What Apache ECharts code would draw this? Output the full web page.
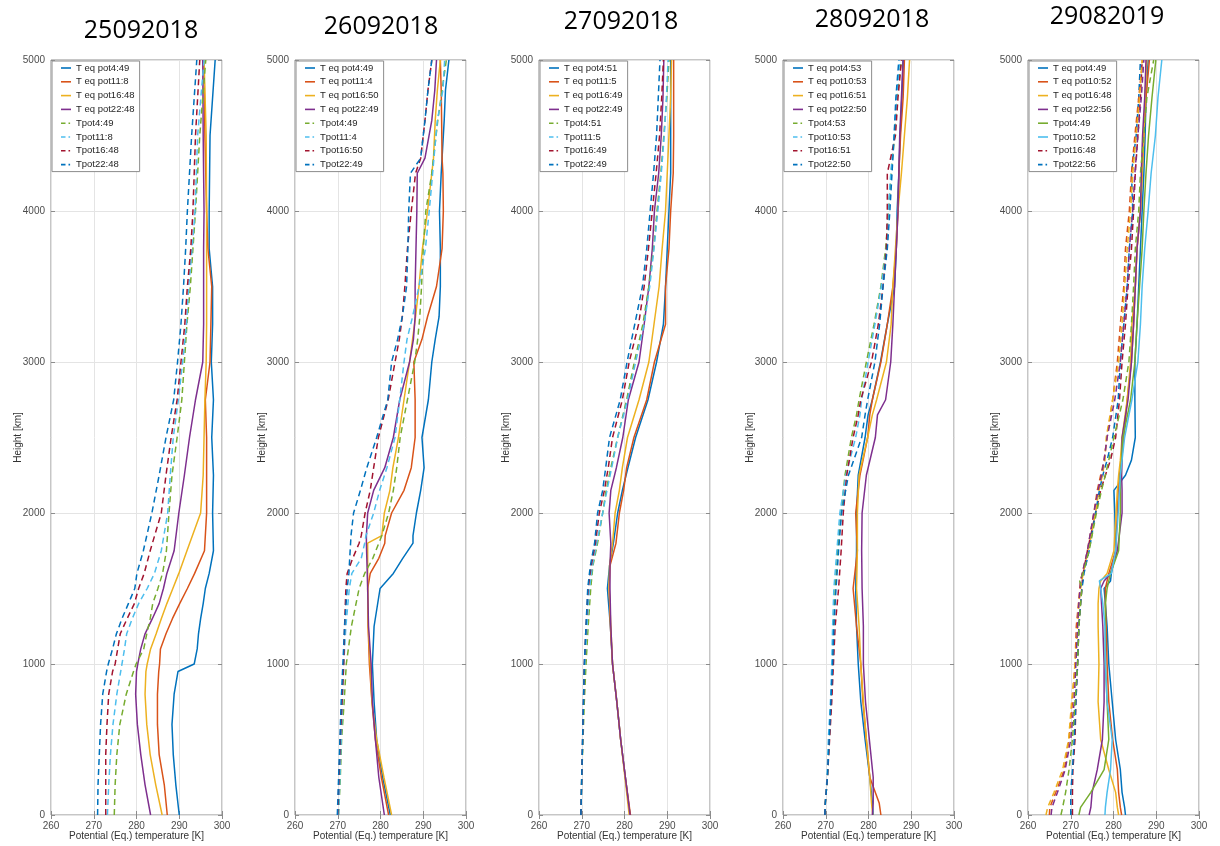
<!DOCTYPE html>
<html>
<head>
<meta charset="utf-8">
<script src="https://cdn.jsdelivr.net/npm/echarts@6/dist/echarts.min.js"></script>
<style>
  html, body { margin: 0; padding: 0; background: #fff; }
  #chart { width: 1220px; height: 846px; }
</style>
</head>
<body>
<div id="chart"></div>
<script>
// ---------- Sounding profiles: potential (Tpot) and equivalent potential (T eq pot) temperature [K] vs height [m] ----------

// 25.09.2018
const h25 = [0, 200, 400, 600, 800, 950, 1000, 1100, 1200, 1300, 1400, 1500, 1600, 1750, 2000, 2250, 2500, 2750, 3000, 3250, 3500, 3750, 4000, 4500, 5000];
const eq25_0449 = [290, 289.2, 288.6, 288.3, 288.8, 289.7, 293.5, 294.2, 294.5, 295, 295.6, 296.1, 297, 298, 297.8, 298, 297.6, 298, 297.5, 297.8, 297.8, 297, 297, 297.2, 298.4];
const eq25_1108 = [287.2, 286.5, 285.3, 284.9, 284.9, 285.2, 285.4, 285.6, 286.9, 288.4, 290.1, 291.9, 293.6, 295.9, 296.4, 296.4, 296.4, 296.1, 297.2, 297.4, 297.6, 296.7, 296.4, 296, 295.8];
const eq25_1648 = [286, 284.5, 283.2, 282.4, 282, 282.2, 282.5, 283.3, 284.6, 285.8, 287.1, 288.5, 289.9, 291.8, 295, 295.6, 295.8, 296, 296.3, 296.4, 296.4, 296.4, 296.4, 296.3, 295.8];
const eq25_2248 = [283.3, 282, 281, 280.2, 279.8, 280, 280.3, 281, 282, 283.7, 285.3, 286.3, 287.1, 288.8, 289.9, 291.2, 292.4, 293.8, 295.5, 295.7, 295.7, 295.7, 295.8, 295.6, 295.5];
const pot25_0449 = [274.8, 275, 275.4, 276.1, 277.6, 279.3, 279.9, 281.7, 282.4, 283.2, 283.8, 285, 286.1, 287, 287.6, 288.3, 289.5, 290.6, 291.2, 291.8, 292.6, 293.2, 293.8, 294.8, 296.2];
const pot25_1108 = [273.2, 273.5, 273.9, 274.5, 275.4, 276.3, 276.6, 277.2, 277.7, 279, 280.5, 282.5, 284.2, 285.8, 287.3, 287.9, 288.6, 289.8, 290.8, 291.7, 292.2, 293, 293.7, 294.3, 295.8];
const pot25_1648 = [272.8, 272.8, 272.8, 273.1, 273.5, 274.4, 275, 275.6, 276.2, 277.8, 279.5, 280.5, 281.8, 283.2, 285.8, 286.9, 288.1, 289.5, 290.4, 291.3, 291.9, 292.7, 293.2, 293.8, 294.8];
const pot25_2248 = [270.9, 271, 271.3, 271.6, 272.1, 273, 273.4, 274.4, 275.3, 276.6, 278.1, 279.6, 280.1, 281.6, 283.6, 285.3, 286.9, 288.7, 289.6, 290.4, 291, 291.5, 291.9, 292.9, 294.1];
const names25 = ['T eq pot4:49', 'T eq pot11:8', 'T eq pot16:48', 'T eq pot22:48', 'Tpot4:49', 'Tpot11:8', 'Tpot16:48', 'Tpot22:48'];

// 26.09.2018
const h26 = [0, 250, 500, 750, 1000, 1250, 1500, 1600, 1700, 1800, 1850, 2000, 2150, 2300, 2500, 2750, 3000, 3150, 3300, 3500, 3750, 4000, 4250, 4350, 4600, 4800, 5000];
const eq26_0449 = [282.3, 280.5, 279.1, 278.5, 278.1, 278.5, 279.9, 283, 285.2, 287.6, 287.6, 288.4, 289.4, 290.2, 289.7, 291.2, 292, 292.8, 293.7, 294, 294, 293.8, 294.2, 294.4, 294.9, 295.2, 296];
const eq26_1104 = [281.9, 280.2, 278.8, 278, 277.4, 277.1, 277, 277.6, 279.6, 281, 281.1, 282.6, 285.5, 287.2, 288.1, 288.1, 287.8, 289.7, 291, 293.1, 294.4, 294.7, 294.6, 294.4, 294.3, 294.2, 294];
const eq26_1650 = [282.6, 280.8, 279.1, 278, 277.6, 277.1, 277, 277, 277, 277, 280.3, 280.9, 282.2, 282.9, 284.2, 285.5, 286.8, 287.5, 288.2, 289, 289.8, 291, 292, 292.4, 292.8, 293.3, 294];
const eq26_2249 = [280.9, 279.6, 278.8, 278.1, 277.8, 277.2, 277, 276.9, 276.8, 276.7, 276.7, 277, 278.4, 281, 283, 284.5, 286.8, 287.7, 288.1, 288.1, 288.3, 288.5, 288.6, 290.4, 292, 292.7, 293.1];
const pot26_0449 = [270.2, 270.6, 270.9, 271.5, 272, 273.2, 275, 276.3, 278.2, 279.6, 280.3, 281.9, 283, 283.8, 284.6, 286.3, 288, 288.7, 289.2, 289.6, 290, 290.6, 292, 292.4, 293.4, 294.4, 295.4];
const pot26_1104 = [270.2, 270.5, 270.8, 271.1, 271.4, 271.9, 272.7, 273.3, 275.5, 276.3, 276.6, 278.4, 279.8, 281.5, 283.4, 284.5, 285.5, 286.2, 287.5, 289, 290.5, 291.4, 292.2, 292.5, 293.3, 294.6, 295];
const pot26_1650 = [270, 270.3, 270.6, 271, 271.4, 271.6, 271.9, 272.2, 273.5, 275, 275.5, 276.4, 277.6, 278.4, 279.5, 281.8, 283.4, 284.4, 285.1, 285.7, 286.3, 287.2, 288.2, 289.4, 290.4, 291.1, 292];
const pot26_2249 = [269.9, 270.2, 270.5, 270.8, 271.2, 271.6, 272.2, 272.6, 272.8, 273, 273.1, 273.7, 275.3, 276.8, 279.1, 281.7, 282.6, 284, 285.1, 286.1, 286.4, 286.6, 287, 289.4, 290.4, 291.1, 292];
const names26 = ['T eq pot4:49', 'T eq pot11:4', 'T eq pot16:50', 'T eq pot22:49', 'Tpot4:49', 'Tpot11:4', 'Tpot16:50', 'Tpot22:49'];

// 27.09.2018
const h27 = [0, 250, 500, 750, 1000, 1250, 1500, 1650, 1800, 2000, 2150, 2300, 2500, 2750, 3000, 3250, 3500, 3750, 4000, 4250, 4500, 4750, 5000];
const eq27_0451 = [281.3, 280.2, 279.1, 278.2, 277.2, 276.7, 276, 276.5, 277.4, 278.4, 279.5, 280.8, 282.6, 285.5, 287.5, 289.1, 289.6, 290, 290.4, 290.8, 290.8, 290.8, 290.8];
const eq27_1105 = [281.4, 280.2, 279.1, 278.2, 277.2, 276.7, 276.4, 276.6, 278, 278.8, 279.8, 280.5, 282.2, 285.2, 287, 289.6, 289.6, 290.4, 290.8, 291.4, 291.5, 291.5, 291.5];
const eq27_1649 = [281.1, 280.1, 279.1, 278.2, 277.2, 276.8, 276.4, 276.5, 277.2, 277.8, 278.8, 279.5, 280.7, 283.4, 285.7, 286.9, 288.1, 288.8, 289.6, 290, 290.4, 290.8, 291];
const eq27_2249 = [281.3, 280.2, 279.1, 278.2, 277.2, 276.8, 276.6, 276.6, 276.8, 276.4, 276.8, 278.1, 279.6, 280.9, 283.4, 284.6, 285.7, 286.5, 287, 288, 288.6, 289, 289.2];
const pot27_0451 = [269.8, 270, 270.3, 270.6, 271, 271.5, 272.1, 272.6, 273.7, 274.9, 275.7, 276.8, 278.4, 280.5, 282.3, 284.3, 285.7, 286.8, 287.6, 288.5, 289.2, 289.9, 290.4];
const pot27_1105 = [269.8, 270, 270.2, 270.4, 270.7, 271.2, 271.8, 272.5, 273.5, 274.9, 275.9, 277, 278.4, 280.7, 282.6, 284.6, 285.9, 286.9, 287.8, 288.6, 289.3, 289.8, 290.2];
const pot27_1649 = [269.8, 270, 270.2, 270.4, 270.6, 271, 271.5, 272.2, 273.2, 274.1, 275.3, 276.2, 277.2, 279.5, 281.1, 283.3, 284.6, 285.6, 286.5, 287.4, 288.2, 288.7, 289.1];
const pot27_2249 = [269.8, 270, 270.2, 270.4, 270.6, 271, 271.4, 272, 273, 273.7, 274.9, 275.6, 276.5, 279, 280.6, 282.4, 284.2, 285.2, 286, 286.8, 287.5, 287.9, 288.3];
const names27 = ['T eq pot4:51', 'T eq pot11:5', 'T eq pot16:49', 'T eq pot22:49', 'Tpot4:51', 'Tpot11:5', 'Tpot16:49', 'Tpot22:49'];

// 28.09.2018
const h28 = [0, 80, 250, 500, 750, 1000, 1250, 1500, 1750, 2000, 2250, 2500, 2650, 2750, 3000, 3250, 3500, 3750, 4000, 4250, 4500, 4750, 5000];
const eq28_0453 = [281.1, 280.9, 280.3, 279.2, 278.2, 277.6, 277.2, 277, 277.2, 277.2, 277.6, 279.2, 279.9, 280.9, 282.8, 284.4, 286.1, 286.5, 286.7, 287.1, 287.4, 287.8, 288.1];
const eq28_1053 = [282.9, 282.5, 280.3, 279.5, 278.7, 278.2, 277.2, 276.4, 277.4, 277, 278, 279.8, 280.3, 280.9, 282.9, 284.4, 285.7, 286.5, 286.9, 287.1, 287.5, 288.1, 288.4];
const eq28_1651 = [281, 280.7, 280.3, 279.5, 278.8, 278.2, 277.8, 277.2, 277.4, 277.4, 277.8, 279.8, 280.9, 281.9, 284.2, 285.3, 285.7, 286.3, 286.9, 287.7, 288.4, 289.1, 289.6];
const eq28_2250 = [280.9, 281.1, 281.1, 280.2, 279.3, 278.8, 278.8, 278.5, 278.4, 278.5, 279.5, 281.6, 282.1, 284, 285.2, 285.7, 286.1, 286.5, 286.9, 287.1, 287.3, 287.7, 288.1];
const pot28_0453 = [269.8, 269.9, 270.4, 270.8, 271.2, 271.6, 271.8, 272.2, 272.8, 273.6, 274.5, 276, 277.2, 277.8, 279.5, 281.3, 282.9, 284, 284.7, 285.3, 286.1, 286.7, 287.7];
const pot28_1053 = [269.8, 269.9, 270.3, 270.6, 271.1, 271.4, 271.6, 271.9, 272.6, 273.3, 274.7, 277, 278, 278.4, 279.9, 281.5, 283, 284.2, 284.6, 285.2, 286, 286.6, 287.3];
const pot28_1651 = [269.8, 269.9, 270.4, 270.9, 271.4, 271.8, 272.2, 273, 273.6, 274.1, 274.9, 276.4, 277.6, 278.2, 280.7, 282.3, 283.4, 284.2, 284.4, 284.4, 286.3, 286.9, 287.7];
const pot28_2250 = [269.8, 269.9, 270.4, 270.8, 271.2, 271.6, 271.9, 272.4, 273, 273.7, 275.3, 278.4, 279.2, 279.8, 281.5, 282.6, 283.4, 284.4, 285, 285.5, 286, 286.4, 287.1];
const names28 = ['T eq pot4:53', 'T eq pot10:53', 'T eq pot16:51', 'T eq pot22:50', 'Tpot4:53', 'Tpot10:53', 'Tpot16:51', 'Tpot22:50'];

// 29.08.2019 (twelve profiles, eight of them labelled)
const h29 = [0, 50, 150, 300, 500, 750, 1000, 1250, 1400, 1500, 1550, 1600, 1750, 2000, 2150, 2250, 2350, 2500, 2750, 3000, 3250, 3500, 3750, 4000, 4250, 4500, 4750, 5000];
const eq29_0449 = [282.8, 282.6, 282.0, 281.6, 280.5, 279.7, 278.9, 278.5, 278.1, 277.8, 279.3, 279.5, 280.5, 280.3, 280.1, 282.8, 284.2, 285.1, 285.0, 285.0, 285.5, 285.9, 286.3, 286.7, 287.1, 287.4, 287.6, 288.1];
const eq29_1052 = [281.9, 281.6, 281.2, 280.9, 279.8, 278.9, 278.5, 278.3, 278.1, 278.1, 278.5, 278.9, 280.5, 280.9, 281.1, 281.4, 281.9, 282.4, 283.2, 284.2, 284.7, 285.1, 285.5, 286.3, 286.7, 287.1, 287.6, 288.4];
const eq29_1648 = [281.2, 280.9, 280.5, 278.9, 277.0, 276.4, 276.6, 276.4, 276.4, 276.6, 277.0, 278.5, 280.1, 280.6, 280.9, 281.2, 281.6, 282.0, 283.2, 284.0, 284.3, 285.1, 285.5, 286.3, 286.7, 287.1, 287.4, 287.8];
const eq29_2256 = [274.3, 274.7, 275.0, 276.2, 277.4, 277.8, 277.8, 277.5, 277.2, 277.0, 277.8, 279.3, 280.9, 282.0, 282.0, 281.9, 282.0, 282.0, 283.4, 284.2, 284.7, 285.1, 285.5, 286.3, 286.5, 286.8, 287.3, 287.6];
const pot29_0449 = [271.9, 272.3, 274.7, 277.8, 278.9, 278.5, 278.1, 278.1, 278.1, 278.5, 278.9, 279.3, 281.2, 281.6, 281.6, 281.6, 281.9, 282.2, 284.0, 285.0, 285.5, 286.1, 286.7, 287.1, 287.6, 288.2, 289.0, 289.9];
const pot29_1052 = [278.0, 278.1, 278.5, 279.3, 279.7, 278.5, 278.1, 278.0, 277.5, 277.0, 276.7, 279.5, 280.5, 281.1, 281.4, 281.6, 282.0, 282.6, 284.3, 285.7, 286.3, 286.7, 287.3, 288.1, 288.8, 289.8, 290.4, 291.3];
const pot29_1648 = [270.4, 270.4, 270.4, 270.5, 271.0, 271.2, 271.6, 271.9, 272.3, 272.6, 272.7, 272.9, 273.9, 275.8, 277.0, 278.1, 279.3, 280.5, 281.4, 282.0, 282.8, 283.4, 284.2, 284.7, 285.1, 285.7, 286.3, 286.7];
const pot29_2256 = [270.0, 270.0, 270.0, 270.4, 270.8, 271.2, 271.6, 271.9, 272.3, 272.6, 272.9, 273.1, 274.3, 275.8, 276.7, 277.5, 278.5, 279.8, 281.1, 281.6, 282.4, 283.2, 283.7, 284.5, 284.2, 285.3, 285.9, 286.3];
const data9_29 = [265.0, 265.1, 266.5, 268.5, 269.6, 270.4, 271.0, 271.3, 271.8, 272.1, 272.3, 272.7, 273.9, 275.4, 276.2, 277.0, 277.8, 278.5, 279.8, 280.9, 281.6, 282.4, 282.8, 283.7, 284.2, 285.0, 285.9, 286.8];
const data10_29 = [264.2, 264.6, 266.1, 268.1, 269.5, 270.2, 271.0, 271.6, 271.9, 272.3, 272.6, 272.9, 274.1, 275.8, 276.6, 277.4, 278.0, 278.3, 279.8, 281.2, 282.0, 282.6, 283.2, 284.0, 284.5, 285.3, 286.1, 286.7];
const data11_29 = [265.4, 265.6, 266.9, 268.7, 270.0, 270.8, 271.2, 271.6, 271.9, 272.2, 272.3, 272.7, 273.9, 275.4, 276.4, 277.2, 277.8, 278.5, 280.3, 281.6, 282.4, 283.2, 283.7, 284.5, 285.0, 285.7, 286.5, 287.1];
const data12_29 = [267.7, 268.1, 268.8, 269.6, 270.4, 271.0, 271.6, 271.9, 272.3, 272.6, 272.1, 272.9, 274.3, 276.0, 277.2, 278.1, 278.9, 280.1, 282.2, 283.6, 284.2, 284.7, 285.1, 285.9, 286.3, 287.1, 287.8, 289.4];
const names29 = ['T eq pot4:49', 'T eq pot10:52', 'T eq pot16:48', 'T eq pot22:56', 'Tpot4:49', 'Tpot10:52', 'Tpot16:48', 'Tpot22:56', 'data9', 'data10', 'data11', 'data12'];

// Panel titles and axis ticks
const dates = ['25092018', '26092018', '27092018', '28092018', '29082019'];
const tempTicks = [260, 270, 280, 290, 300];
const heightTicks = [0, 1000, 2000, 3000, 4000, 5000];

// ---------- chart assembly ----------
const panels = [
  { heights: h25, names: names25, temps: [eq25_0449, eq25_1108, eq25_1648, eq25_2248, pot25_0449, pot25_1108, pot25_1648, pot25_2248], solidCount: 4 },
  { heights: h26, names: names26, temps: [eq26_0449, eq26_1104, eq26_1650, eq26_2249, pot26_0449, pot26_1104, pot26_1650, pot26_2249], solidCount: 4 },
  { heights: h27, names: names27, temps: [eq27_0451, eq27_1105, eq27_1649, eq27_2249, pot27_0451, pot27_1105, pot27_1649, pot27_2249], solidCount: 4 },
  { heights: h28, names: names28, temps: [eq28_0453, eq28_1053, eq28_1651, eq28_2250, pot28_0453, pot28_1053, pot28_1651, pot28_2250], solidCount: 4 },
  { heights: h29, names: names29, temps: [eq29_0449, eq29_1052, eq29_1648, eq29_2256, pot29_0449, pot29_1052, pot29_1648, pot29_2256, data9_29, data10_29, data11_29, data12_29], solidCount: 6 }
];

// MATLAB default colour order
const lineColors = ['#0072BD', '#D95319', '#EDB120', '#7E2F8E', '#77AC30', '#4DBEEE', '#A2142F'];

// Legend line samples (solid bar, and a dash followed by a short dash)
const solidIcon = 'path://M0,0 L10,0 L10,1.6 L0,1.6 Z';
const dashedIcon = 'path://M0,0 L4.5,0 L4.5,1.6 L0,1.6 Z M7.5,0 L9,0 L9,1.6 L7.5,1.6 Z M9.9,0 L10,0 L10,1.6 L9.9,1.6 Z';

const gridLeft = [51, 295, 539, 783, 1028];
const gridTop = 60, gridWidth = 171, gridHeight = 756;
const titleX = [141, 381, 621, 872, 1107];
const titleY = [31, 27, 22, 20, 17];
const axisGrey = '#8c8c8c';
const labelGrey = '#4d4d4d';
const sansFont = 'Liberation Sans, Arial, sans-serif';
const plainNumber = v => String(v);

const grids = [], xAxes = [], yAxes = [], xAxesTop = [], yAxesRight = [];
const legends = [], series = [], graphics = [];

panels.forEach((p, i) => {
  grids.push({
    left: gridLeft[i], top: gridTop, width: gridWidth, height: gridHeight,
    show: true, borderColor: axisGrey, borderWidth: 1, backgroundColor: '#fff'
  });
  xAxes.push({
    gridIndex: i, type: 'value', position: 'bottom',
    min: tempTicks[0], max: tempTicks[tempTicks.length - 1], interval: tempTicks[1] - tempTicks[0],
    axisLine: { show: false },
    axisTick: { inside: true, length: 4, lineStyle: { color: axisGrey } },
    axisLabel: { fontSize: 10, color: labelGrey, margin: 6, fontFamily: sansFont, formatter: plainNumber },
    splitLine: { show: true, lineStyle: { color: '#e4e4e4', width: 1 } },
    name: 'Potential (Eq.) temperature [K]', nameLocation: 'middle', nameGap: 16, nameMoveOverlap: false,
    nameTextStyle: { fontSize: 10, color: '#333', fontFamily: sansFont }
  });
  xAxesTop.push({
    gridIndex: i, type: 'value', position: 'top',
    min: tempTicks[0], max: tempTicks[tempTicks.length - 1], interval: tempTicks[1] - tempTicks[0],
    axisLine: { show: false },
    axisTick: { inside: true, length: 4, lineStyle: { color: axisGrey } },
    axisLabel: { show: false }, splitLine: { show: false }
  });
  yAxes.push({
    gridIndex: i, type: 'value', position: 'left',
    min: heightTicks[0], max: heightTicks[heightTicks.length - 1], interval: heightTicks[1] - heightTicks[0],
    axisLine: { show: false },
    axisTick: { inside: true, length: 4, lineStyle: { color: axisGrey } },
    axisLabel: { fontSize: 10, color: labelGrey, margin: 6, fontFamily: sansFont, formatter: plainNumber },
    splitLine: { show: true, lineStyle: { color: '#e4e4e4', width: 1 } },
    name: 'Height [km]', nameLocation: 'middle', nameGap: 28, nameMoveOverlap: false,
    nameTextStyle: { fontSize: 10, color: '#333', fontFamily: sansFont }
  });
  yAxesRight.push({
    gridIndex: i, type: 'value', position: 'right',
    min: heightTicks[0], max: heightTicks[heightTicks.length - 1], interval: heightTicks[1] - heightTicks[0],
    axisLine: { show: false },
    axisTick: { inside: true, length: 4, lineStyle: { color: axisGrey } },
    axisLabel: { show: false }, splitLine: { show: false }
  });

  const legendItems = [];
  p.temps.forEach((t, k) => {
    const color = lineColors[k % lineColors.length];
    const dashed = k >= p.solidCount;
    series.push({
      type: 'line', name: p.names[k],
      xAxisIndex: i, yAxisIndex: i,
      data: p.heights.map((h, j) => [t[j], h]),
      symbol: 'none', showSymbol: false, silent: true, animation: false,
      lineStyle: { color: color, width: 1.5, type: dashed ? [6, 4] : 'solid' },
      itemStyle: { color: color }
    });
    if (k < 8) {
      legendItems.push({
        name: p.names[k],
        icon: dashed ? dashedIcon : solidIcon,
        itemStyle: { color: color, borderWidth: 0 }
      });
    }
  });

  legends.push({
    left: gridLeft[i] + 1, top: gridTop + 1, orient: 'vertical',
    itemWidth: 10, itemHeight: 11, itemGap: 3.8,
    padding: [2, 5, 2, 9],
    backgroundColor: '#fff', borderColor: axisGrey, borderWidth: 1,
    selectedMode: false, z: 10,
    textStyle: { fontSize: 9.5, color: '#262626', fontFamily: sansFont },
    data: legendItems
  });

  graphics.push({
    type: 'text', x: titleX[i], y: titleY[i], z: 100,
    style: {
      text: dates[i], fill: '#000', fontSize: 25, fontFamily: 'Open Sans, Lato, sans-serif',
      align: 'center', verticalAlign: 'middle', textAlign: 'center', textVerticalAlign: 'middle'
    }
  });
});

const chart = echarts.init(document.getElementById('chart'), null, { renderer: 'canvas' });
chart.setOption({
  animation: false,
  backgroundColor: '#fff',
  grid: grids,
  xAxis: xAxes.concat(xAxesTop),
  yAxis: yAxes.concat(yAxesRight),
  legend: legends,
  series: series,
  graphic: graphics
});
</script>
</body>
</html>
